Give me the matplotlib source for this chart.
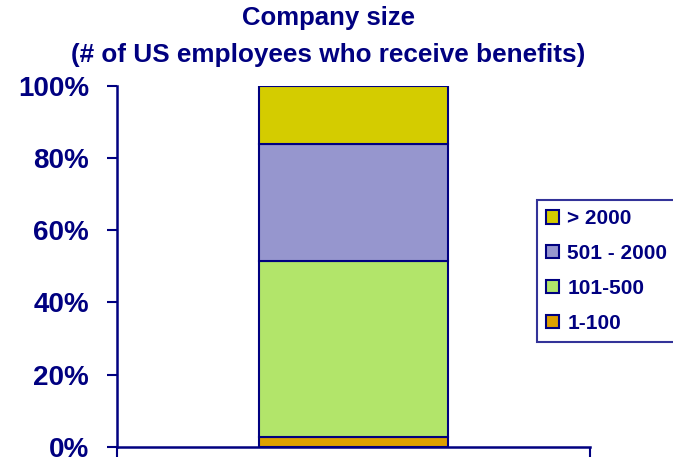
import matplotlib.pyplot as plt
from matplotlib.ticker import PercentFormatter

# quote di dipendenti per fascia di dimensione aziendale (in %)
fasce = ["1-100", "101-500", "501 - 2000", "> 2000"]
quote = [2.8, 48.8, 32.2, 16.2]
colori = ["#DDA000", "#B2E56A", "#9696CE", "#D4CC00"]
tick_y = [0, 20, 40, 60, 80, 100]

navy = "#000080"
plt.rcParams['font.family'] = ['Liberation Sans', 'DejaVu Sans']
plt.rcParams['font.weight'] = 'bold'

fig = plt.figure(figsize=(6.73, 4.58), dpi=100)
ax = fig.add_axes([117 / 673, 1 - 446.7 / 458, 473 / 673, 360.7 / 458])

# barra impilata
base = 0
barre = []
for fascia, q, c in zip(fasce, quote, colori):
    b = ax.bar(0, q, width=0.40, bottom=base, color=c, edgecolor=navy,
               linewidth=1.5, label=fascia, zorder=3)
    barre.append(b)
    base += q

ax.set_xlim(-0.5, 0.5)
ax.set_ylim(0, 100)
ax.set_yticks(tick_y)
ax.yaxis.set_major_formatter(PercentFormatter(decimals=0))
ax.set_xticks([-0.5, 0.5])
ax.set_xticklabels([])

for lato in ['top', 'right']:
    ax.spines[lato].set_visible(False)
for lato in ['left', 'bottom']:
    ax.spines[lato].set_color(navy)
    ax.spines[lato].set_linewidth(1.8)
ax.tick_params(axis='y', colors=navy, length=7, width=1.5, labelsize=20, pad=13)
ax.tick_params(axis='x', colors=navy, length=7, width=1.5)
for t in ax.get_yticklabels():
    t.set_fontweight('bold')

# titolo su due righe
fig.text(328 / 673, 1 - 25 / 458, "Company size", ha='center', va='baseline',
         fontsize=18.5, fontweight='bold', color=navy)
fig.text(328 / 673, 1 - 62 / 458, "(# of US employees who receive benefits)",
         ha='center', va='baseline', fontsize=18.8, fontweight='bold', color=navy)

leg = ax.legend(barre[::-1], fasce[::-1], loc='upper left',
                bbox_to_anchor=(537 / 673, 0.1, 0.3, 1 - 200 / 458 - 0.1),
                bbox_transform=fig.transFigure, mode='expand',
                fontsize=15, frameon=True, fancybox=False,
                handlelength=0.6, handleheight=0.6, handletextpad=0.4,
                labelspacing=0.76, borderpad=0.45, borderaxespad=0)
leg.get_frame().set_edgecolor(navy)
leg.get_frame().set_linewidth(1.5)
for t in leg.get_texts():
    t.set_color(navy)
    t.set_fontweight('bold')

fig.savefig("out.png", dpi=100)
